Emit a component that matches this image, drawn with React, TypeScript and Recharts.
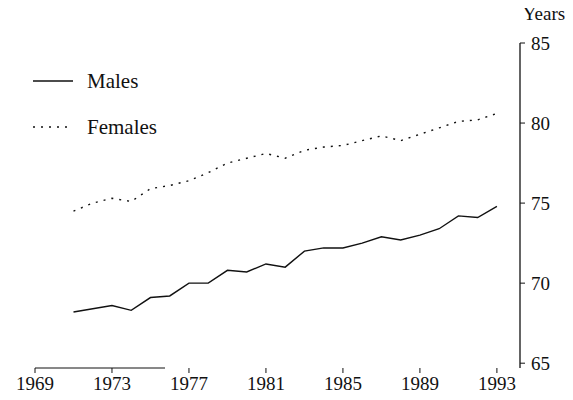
import React from 'react';
import { LineChart, Line, XAxis, YAxis } from 'recharts';

const years = [1971, 1972, 1973, 1974, 1975, 1976, 1977, 1978, 1979, 1980, 1981, 1982, 1983, 1984, 1985, 1986, 1987, 1988, 1989, 1990, 1991, 1992, 1993];
const males = [68.2, 68.4, 68.6, 68.3, 69.1, 69.2, 70.0, 70.0, 70.8, 70.7, 71.2, 71.0, 72.0, 72.2, 72.2, 72.5, 72.9, 72.7, 73.0, 73.4, 74.2, 74.1, 74.8];
const females = [74.5, 75.0, 75.3, 75.1, 75.9, 76.1, 76.4, 76.9, 77.5, 77.8, 78.1, 77.8, 78.3, 78.5, 78.6, 78.9, 79.2, 78.9, 79.3, 79.7, 80.1, 80.2, 80.6];
const xTicks = [1969, 1973, 1977, 1981, 1985, 1989, 1993];
const yTicks = [65, 70, 75, 80, 85];
const seriesNames = ['Males', 'Females'];

const data = years.map((y, i) => ({ year: y, Males: males[i], Females: females[i] }));

const FONT = '"Liberation Serif", "DejaVu Serif", serif';
const INK = '#111';
const DASHES: Record<string, string | undefined> = { Males: undefined, Females: '2 6' };

export default function App() {
  return (
    <div style={{ position: 'relative', width: 573, height: 400, margin: -8, background: '#fff' }}>
      <LineChart width={573} height={400} data={data} margin={{ top: 43, right: 13, bottom: 2, left: 35 }}>
        <XAxis
          dataKey="year"
          type="number"
          domain={[1969, 1994.2]}
          ticks={xTicks}
          allowDataOverflow
          interval={0}
          tickSize={5}
          tickMargin={4}
          height={30}
          axisLine={{ stroke: INK, strokeDasharray: '130 1000' }}
          tickLine={{ stroke: INK }}
          tick={{ fill: INK, fontSize: 19, fontFamily: FONT }}
        />
        <YAxis
          orientation="right"
          type="number"
          domain={[64.7, 85]}
          ticks={yTicks}
          allowDataOverflow
          width={40}
          tickSize={5}
          tickMargin={6}
          axisLine={{ stroke: INK, strokeWidth: 1.3 }}
          tickLine={{ stroke: INK }}
          tick={{ fill: INK, fontSize: 19, fontFamily: FONT }}
          label={{ value: 'Years', position: 'top', offset: 23, fill: INK, fontSize: 19, fontFamily: FONT, dx: 4 }}
        />
        <Line type="linear" dataKey="Males" stroke={INK} strokeWidth={1.4} dot={false} isAnimationActive={false} />
        <Line type="linear" dataKey="Females" stroke={INK} strokeWidth={1.4} strokeDasharray="2 6" dot={false} isAnimationActive={false} />
      </LineChart>
      <div style={{ position: 'absolute', left: 33, top: 58, fontFamily: FONT, fontSize: 21, color: INK }}>
        {seriesNames.map((name) => (
          <div key={name} style={{ display: 'flex', alignItems: 'center', height: 46 }}>
            <svg width={40} height={4} style={{ display: 'block' }}>
              <line x1={0} y1={2} x2={40} y2={2} stroke={INK} strokeWidth={1.4} strokeDasharray={DASHES[name]} />
            </svg>
            <span style={{ marginLeft: 14 }}>{name}</span>
          </div>
        ))}
      </div>
    </div>
  );
}
